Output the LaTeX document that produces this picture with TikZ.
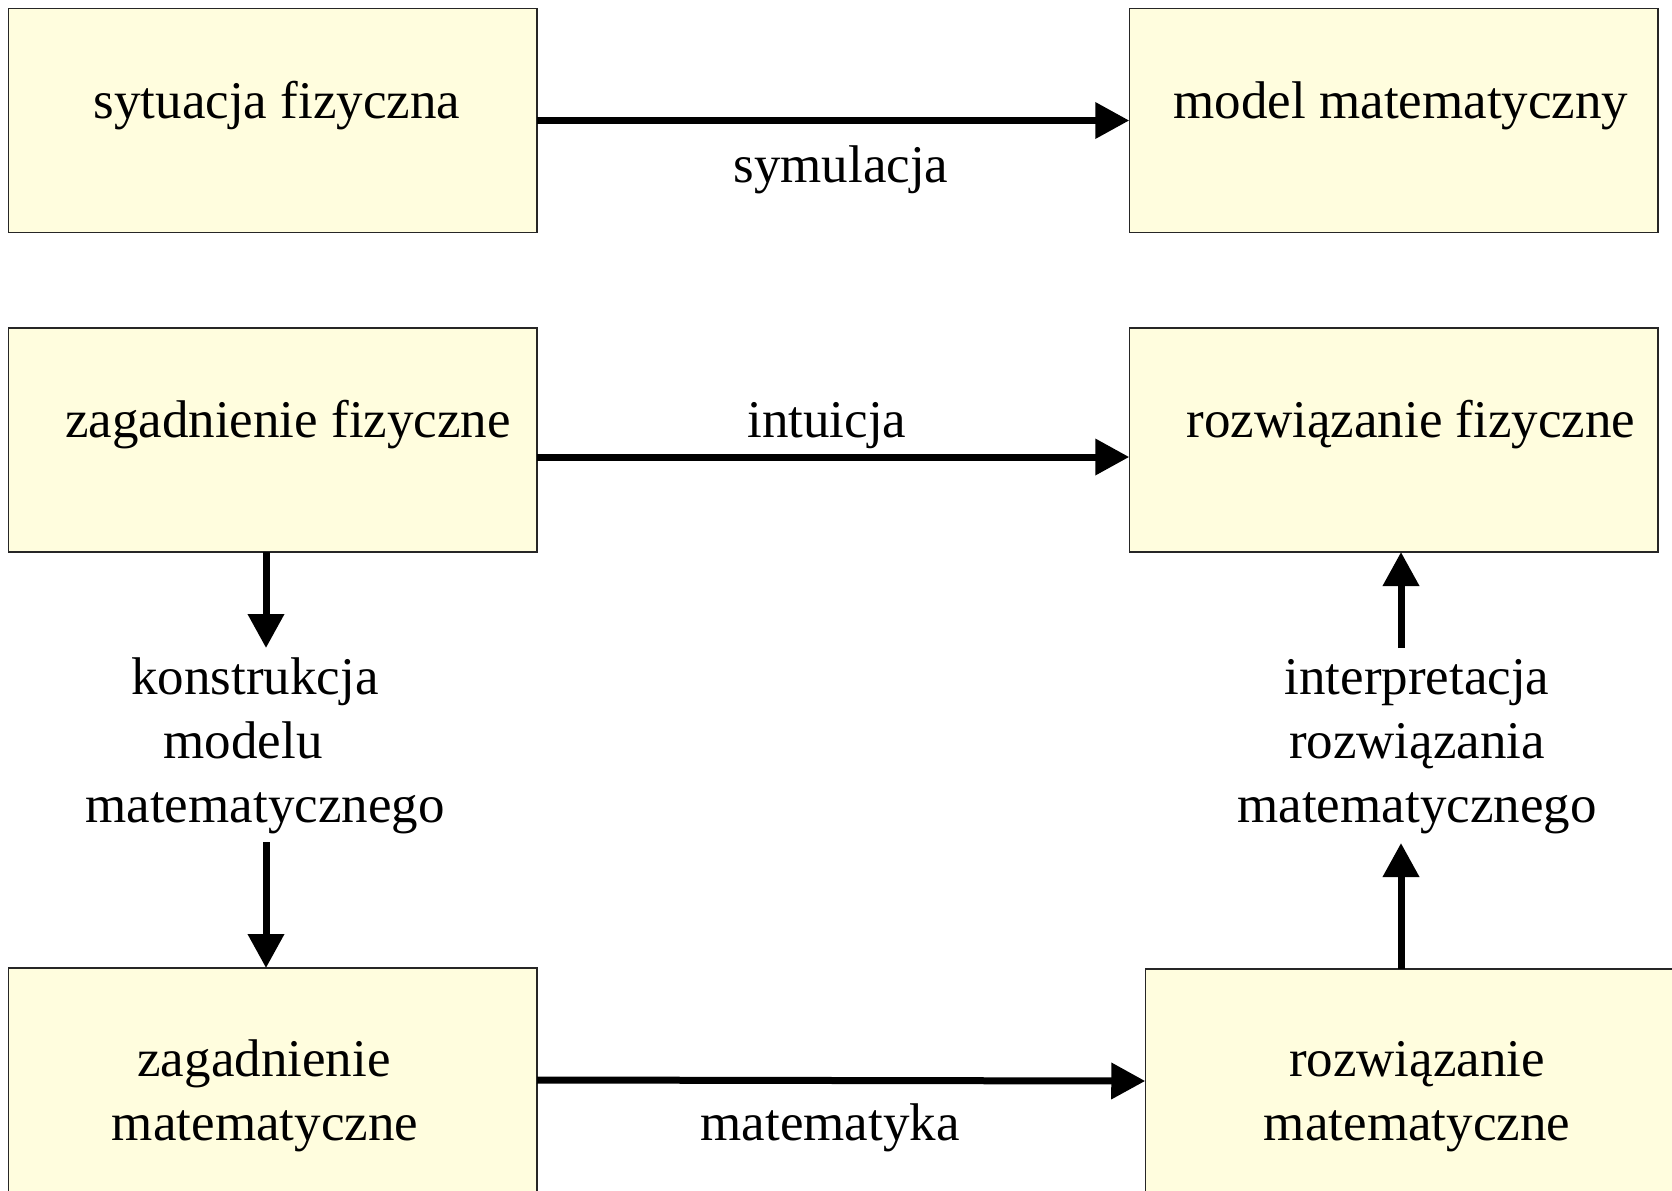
\documentclass[tikz,border=0pt]{standalone}
\usepackage{fontspec}
\setmainfont{Liberation Serif}
\usetikzlibrary{arrows.meta}
\definecolor{boxfill}{RGB}{255,253,222}
\tikzset{
  box/.style={draw=black!85, line width=0.75pt, fill=boxfill, inner sep=0pt, outer sep=0pt,
    minimum width=264.25pt, minimum height=112pt},
  txt/.style={inner sep=0pt, outer sep=0pt, anchor=base, font=\fontsize{26.5pt}{32pt}\selectfont},
  arr/.style={line width=3.5pt, -{Triangle[length=17pt,width=17.5pt]}}
}
\begin{document}
\begin{tikzpicture}[x=0.5pt,y=-0.5pt]
\useasboundingbox (0,0) rectangle (1672,1190);
\clip (0,0) rectangle (1672,1190);
% boxes
\node[box] (A) at (272.75,120.5) {};
\node[box] (B) at (1393.5,120.5) {};
\node[box] (C) at (272.75,440) {};
\node[box] (D) at (1393.5,440) {};
\node[box] (E) at (272.75,1080) {};
\node[box] (F) at (1409.5,1081) {};
% box texts
\node[txt] (tA) at (277,118) {sytuacja fizyczna};
\node[txt] (tB) at (1401,118) {model matematyczny};
\node[txt] (tC) at (288,437) {zagadnienie fizyczne};
\node[txt] (tD) at (1411,437) {rozwiązanie fizyczne};
\node[txt] (tE1) at (264,1076) {zagadnienie};
\node[txt] (tE2) at (265,1140) {matematyczne};
\node[txt] (tF1) at (1417,1076) {rozwiązanie};
\node[txt] (tF2) at (1417,1140) {matematyczne};
% connector labels
\node[txt] (lAB) at (841,182) {symulacja};
\node[txt] (lCD) at (827,437) {intuicja};
\node[txt] (lEF) at (830,1140) {matematyka};
\node[txt] (lCE1) at (255,694) {konstrukcja};
\node[txt] (lCE2) at (243,758) {modelu};
\node[txt] (lCE3) at (265,822) {matematycznego};
\node[txt] (lFD1) at (1417,694) {interpretacja};
\node[txt] (lFD2) at (1417,758) {rozwiązania};
\node[txt] (lFD3) at (1417,822) {matematycznego};
% helper coordinates
\coordinate (yCD) at (0,457);
\coordinate (cCE1) at (266,648);
\coordinate (cCE2) at (266,842);
\coordinate (cFD1) at (1401,648);
\coordinate (cFD2) at (1401,843);
% connectors
\draw[arr] (A.east) -- (B.west);
\draw[arr] (C.east |- yCD) -- (D.west |- yCD);
\draw[arr] (E.east) -- (F.west);
\draw[arr] (C.south -| cCE1) -- (cCE1);
\draw[arr] (cCE2) -- (E.north -| cCE2);
\draw[arr] (cFD1) -- (D.south -| cFD1);
\draw[arr] (F.north -| cFD2) -- (cFD2);
\end{tikzpicture}
\end{document}
